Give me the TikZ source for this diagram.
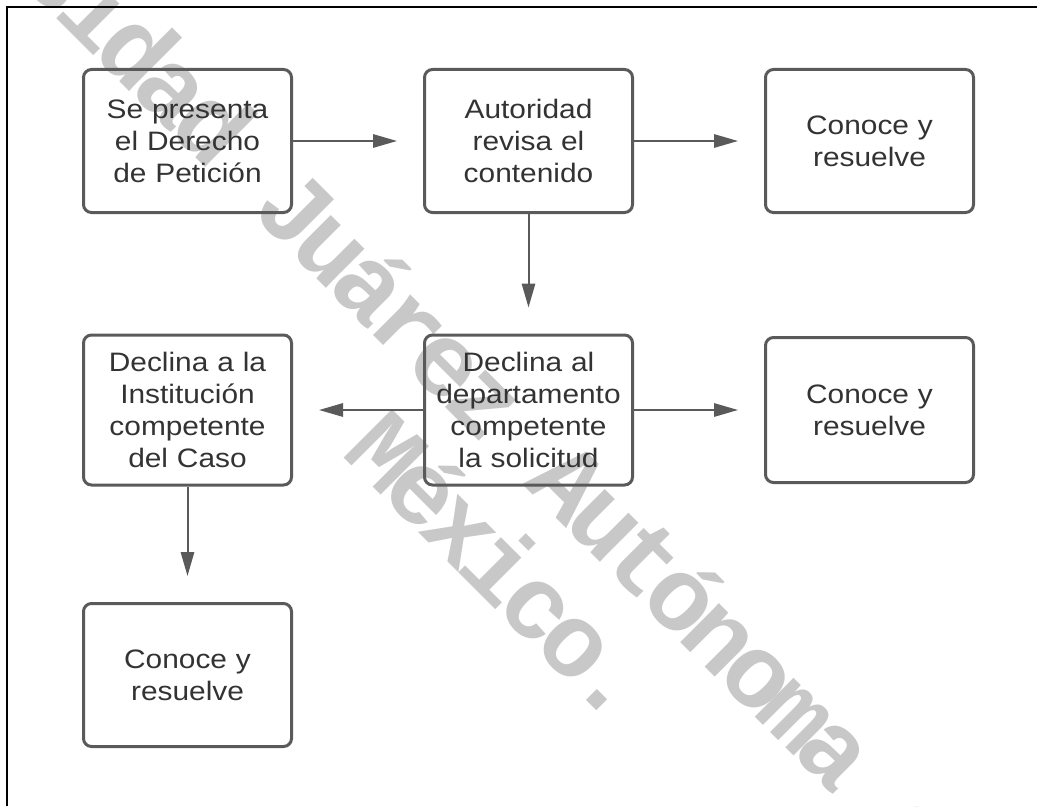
\documentclass[tikz,border=0pt]{standalone}
\usepackage{fontspec}
\setmainfont{Liberation Sans}[FakeStretch=1.12]
\newfontfamily\wmfont{Liberation Mono}[LetterSpace=-8]
\usetikzlibrary{arrows.meta}

\definecolor{boxgray}{HTML}{5A5A5A}
\definecolor{txtgray}{HTML}{333333}
\definecolor{wmgray}{HTML}{C8C8C8}

\begin{document}
\begin{tikzpicture}[x=0.75pt, y=-0.75pt,
    stepbox/.style={draw=boxgray, line width=2.25pt, rounded corners=6pt,
        minimum width=156pt, minimum height=107.25pt, text width=150pt,
        inner sep=0pt, align=center, text=txtgray,
        font=\fontsize{20}{24}\selectfont},
    flow/.style={draw=boxgray, line width=1.5pt,
        -{Triangle[length=18pt, width=10pt]}, shorten >=19.5pt},
    wmtext/.style={text=wmgray, rotate=-45, anchor=base, inner sep=0pt,
        font=\wmfont\bfseries\fontsize{78}{86}\selectfont}]

        \useasboundingbox (0,0) rectangle (1037,806);
        \clip (0,0) rectangle (1037,806);

        % watermark
        \node[wmtext] (wmtop) at (545,507) {Universidad Juárez Autónoma de Tabasco.};
        \node[wmtext] (wmbot) at (477,591) {México.};

        % frame
        \draw[line width=1.5pt] (7,806) -- (7,7) -- (1037,7);

        % top row
        \node[stepbox] (pet) at (187.5,141) {Se presenta\\el Derecho\\de Petición};
        \node[stepbox] (aut) at (528.5,141) {Autoridad\\revisa el\\contenido};
        \node[stepbox] (con1) at (869.5,141) {Conoce y\\resuelve};

        % middle row
        \node[stepbox, minimum height=112.5pt] (ins) at (187.5,410) {Declina a la\\Institución\\competente\\del Caso};
        \node[stepbox, minimum height=112.5pt] (dep) at (528.5,410) {Declina al\\departamento\\competente\\la solicitud};
        \node[stepbox, minimum height=108.75pt] (con2) at (869.5,410) {Conoce y\\resuelve};

        % bottom row
        \node[stepbox] (con3) at (187.5,675) {Conoce y\\resuelve};

        \draw[flow] (pet.east) -- (aut.west);
        \draw[flow] (aut.east) -- (con1.west);
        \draw[flow] (aut.south) -- (dep.north);
        \draw[flow] (dep.west) -- (ins.east);
        \draw[flow] (dep.east) -- (con2.west);
        \draw[flow] (ins.south) -- (con3.north);

    \end{tikzpicture}
\end{document}
